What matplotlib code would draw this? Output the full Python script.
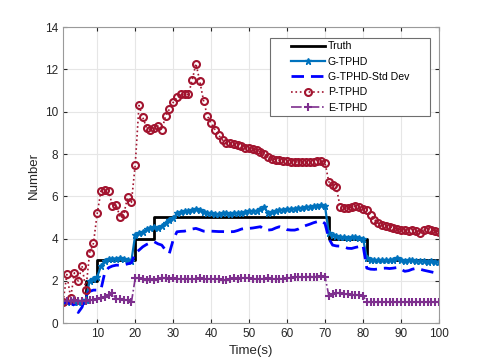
import matplotlib
matplotlib.use("Agg")
import matplotlib.pyplot as plt
from matplotlib.patches import Rectangle
import numpy as np

plt.rcParams['font.family'] = ['Liberation Sans', 'DejaVu Sans']

# time steps
t = np.arange(1, 101)

# true number of targets
truth = [1]*6 + [2]*3 + [3]*10 + [4]*5 + [5]*46 + [4]*10 + [3]*20

g_tphd = [1.02, 1.0, 1.05, 1.0, 1.02, 1.05, 1.1, 2.0, 2.1, 2.2,
          2.7, 2.95, 3.02, 3.05, 3.05, 3.08, 3.03, 2.98, 2.95, 4.16,
          4.24, 4.32, 4.43, 4.48, 4.56, 4.48, 4.6, 4.75, 4.87, 4.95,
          5.19, 5.26, 5.28, 5.28, 5.33, 5.4, 5.36, 5.26, 5.2, 5.19,
          5.16, 5.15, 5.2, 5.22, 5.18, 5.22, 5.2, 5.22, 5.25, 5.28,
          5.3, 5.3, 5.38, 5.48, 5.2, 5.26, 5.31, 5.35, 5.37, 5.38,
          5.4, 5.42, 5.43, 5.45, 5.5, 5.5, 5.52, 5.55, 5.58, 5.52,
          4.25, 4.15, 4.1, 4.08, 4.05, 4.03, 4.05, 4.05, 4.03, 4.0,
          3.1, 3.0, 2.98, 2.98, 2.97, 2.98, 2.98, 3.0, 3.06, 3.0,
          2.95, 2.97, 2.98, 2.95, 2.93, 2.95, 2.9, 2.92, 2.9, 2.9]

g_tphd_std = [0.98, 0.95, 0.93, 0.85, 0.5, 0.75, 1.3, 1.5, 1.56, 1.56,
              1.6, 2.4, 2.62, 2.7, 2.74, 2.74, 2.76, 2.8, 2.85, 3.3,
              3.45, 3.61, 3.72, 3.8, 3.85, 3.75, 3.69, 3.45, 3.3, 3.93,
              4.32, 4.34, 4.35, 4.4, 4.45, 4.48, 4.42, 4.35, 4.35, 4.35,
              4.34, 4.33, 4.33, 4.32, 4.32, 4.33, 4.38, 4.45, 4.48, 4.48,
              4.5, 4.53, 4.56, 4.42, 4.4, 4.42, 4.5, 4.56, 4.5, 4.42,
              4.4, 4.4, 4.45, 4.55, 4.62, 4.68, 4.75, 4.8, 4.84, 4.71,
              4.0, 3.69, 3.65, 3.64, 3.6, 3.54, 3.53, 3.58, 3.62, 3.69,
              2.6, 2.55, 2.54, 2.56, 2.59, 2.6, 2.58, 2.6, 2.63, 2.55,
              2.45, 2.48, 2.55, 2.59, 2.55, 2.5, 2.46, 2.42, 2.38, 2.35]

p_tphd = [1.0, 2.3, 1.2, 2.38, 1.99, 2.71, 1.56, 3.33, 3.77, 5.19,
          6.26, 6.32, 6.26, 5.55, 5.61, 5.0, 5.16, 5.95, 5.71, 7.47,
          10.3, 9.73, 9.24, 9.16, 9.22, 9.32, 9.15, 9.78, 10.12, 10.44,
          10.68, 10.82, 10.82, 10.82, 11.48, 12.28, 11.45, 10.53, 9.81, 9.45,
          9.16, 8.89, 8.66, 8.5, 8.52, 8.47, 8.45, 8.4, 8.29, 8.28,
          8.23, 8.18, 8.1, 8.0, 7.87, 7.78, 7.74, 7.7, 7.68, 7.66,
          7.64, 7.62, 7.63, 7.62, 7.63, 7.64, 7.62, 7.66, 7.68, 7.58,
          6.68, 6.55, 6.42, 5.47, 5.43, 5.45, 5.47, 5.53, 5.47, 5.42,
          5.35, 5.11, 4.9, 4.74, 4.63, 4.6, 4.56, 4.5, 4.43, 4.4,
          4.42, 4.38, 4.4, 4.36, 4.27, 4.4, 4.43, 4.4, 4.35, 4.32]

e_tphd = [1.05, 1.06, 1.05, 1.07, 1.05, 1.04, 1.06, 1.08, 1.1, 1.12,
          1.18, 1.25, 1.32, 1.4, 1.15, 1.12, 1.1, 1.08, 0.98, 2.11,
          2.14, 2.1, 2.05, 2.08, 2.06, 2.1, 2.12, 2.12, 2.1, 2.12,
          2.1, 2.08, 2.1, 2.1, 2.08, 2.1, 2.12, 2.1, 2.08, 2.1,
          2.09, 2.1, 2.06, 2.03, 2.1, 2.12, 2.1, 2.13, 2.12, 2.12,
          2.1, 2.08, 2.07, 2.1, 2.12, 2.1, 2.08, 2.1, 2.1, 2.12,
          2.15, 2.16, 2.18, 2.17, 2.18, 2.2, 2.19, 2.2, 2.21, 2.19,
          1.3, 1.36, 1.4, 1.4, 1.38, 1.36, 1.35, 1.33, 1.32, 1.3,
          1.0, 1.0, 1.0, 1.0, 1.0, 1.0, 1.0, 1.0, 1.0, 1.0,
          1.0, 1.0, 1.0, 1.0, 1.0, 1.0, 1.0, 1.0, 1.0, 1.0]

fig = plt.figure(figsize=(4.85, 3.63), dpi=100)
ax = fig.add_axes([0.13, 0.11, 0.775, 0.815])

ax.plot(t, truth, color='black', lw=2, drawstyle='steps-post', label='Truth')
ax.plot(t, g_tphd, color='#0072BD', lw=1.6, marker='*', ms=5, mew=1,
        label='G-TPHD')
ax.plot(t, g_tphd_std, color='#0000FF', lw=2, ls=(0, (4.5, 2.5)),
        label='G-TPHD-Std Dev')
ax.plot(t, p_tphd, color='#A2142F', lw=1.2, ls=':', marker='o', ms=5,
        mfc='none', mew=1.5, label='P-TPHD')
ax.plot(t, e_tphd, color='#7E2F8E', lw=1.2, ls='-.', marker='+', ms=6,
        mew=1.5, label='E-TPHD')

ax.set_xlim(1, 100)
ax.set_ylim(0, 14)
ax.set_xticks(range(10, 101, 10))
ax.set_yticks(range(0, 15, 2))
ax.grid(True, color='#e6e6e6', lw=0.8)
ax.set_axisbelow(True)
ax.tick_params(direction='in', top=True, right=True, labelsize=8.5,
               colors='#262626', length=3)
for s in ax.spines.values():
    s.set_color('#9a9a9a')
ax.set_xlabel('Time(s)', fontsize=9.5, color='#262626')
ax.set_ylabel('Number', fontsize=9.5, color='#262626')

# legend without its own frame, then a wider MATLAB-like box round it
leg = ax.legend(loc='upper left', bbox_to_anchor=(0.606, 0.952), fontsize=7.6,
                frameon=False, borderpad=0, borderaxespad=0,
                handlelength=3.2, labelspacing=0.5, handletextpad=0.3)
fig.canvas.draw()
bb = leg.get_window_extent()
padx, pady = 21, 3
fig.add_artist(Rectangle((bb.x0 - padx, bb.y0 - pady), bb.width + 2*padx,
                         bb.height + 2*pady, transform=None, fill=True,
                         facecolor='white', edgecolor='#6e6e6e', lw=0.8,
                         zorder=4))
leg.set_zorder(5)
leg.remove()
fig.add_artist(leg)

fig.savefig('out.png', dpi=100)
